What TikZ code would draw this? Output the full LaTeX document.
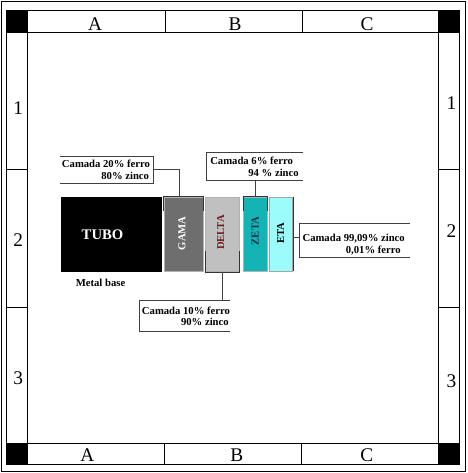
\documentclass[tikz,border=0pt]{standalone}
\usepackage{fontspec}
\setmainfont{Liberation Serif}
\definecolor{gamac}{HTML}{6E6E6E}
\definecolor{deltac}{HTML}{C0C0C0}
\definecolor{zetac}{HTML}{14B4B4}
\definecolor{etac}{HTML}{9CFCFC}
\definecolor{deltat}{HTML}{7A1C1C}
\definecolor{zetat}{HTML}{1C2E4A}
\definecolor{linec}{HTML}{404040}
\begin{document}
\begin{tikzpicture}[x=0.75pt,y=-0.75pt,
  frame/.style={draw=black, line width=0.75pt},
  layer/.style={rectangle, inner sep=0pt, minimum height=55.5pt, draw=gray!60, line width=0.4pt},
  laytxt/.style={font=\bfseries\fontsize{8}{9.6}\selectfont, inner sep=0pt, rotate=90},
  caltxt/.style={font=\bfseries\fontsize{8}{9.6}\selectfont, inner sep=0pt},
  calbox/.style={rectangle, inner sep=0pt},
  calline/.style={draw=linec, line width=0.75pt},
  bandtxt/.style={font=\fontsize{14.5}{17}\selectfont, inner sep=0pt},
  conn/.style={draw=linec, line width=0.75pt},
  bracket/.style={draw=gray!40!black, line width=0.6pt}]
\useasboundingbox (0,0) rectangle (467,473);
\fill[white] (0,0) rectangle (467,473);
% frames
\draw[frame] (1.5,1.5) rectangle (465.5,471.5);
\draw[frame] (6.7,11) rectangle (459.3,464.3);
\draw[frame] (6.7,32.5) -- (459.3,32.5);
\draw[frame] (6.7,443.3) -- (459.3,443.3);
\draw[frame] (27.7,11) -- (27.7,464.3);
\draw[frame] (438.3,11) -- (438.3,464.3);
% black corners
\fill[black] (6.7,11) rectangle (27.7,32.5);
\fill[black] (438.3,11) rectangle (459.3,32.5);
\fill[black] (6.7,443.3) rectangle (27.7,464.3);
\fill[black] (438.3,443.3) rectangle (459.3,464.3);
% dividers
\draw[frame] (165.7,11) -- (165.7,32.5);
\draw[frame] (302.3,11) -- (302.3,32.5);
\draw[frame] (164.3,443.3) -- (164.3,464.3);
\draw[frame] (301,443.3) -- (301,464.3);
\draw[frame] (6.7,170) -- (27.7,170);
\draw[frame] (6.7,307) -- (27.7,307);
\draw[frame] (438.3,170) -- (459.3,170);
\draw[frame] (438.3,307) -- (459.3,307);
% band labels
\node[bandtxt, anchor=base] (tA) at (95,31) {A};
\node[bandtxt, anchor=base] (tB) at (235,31) {B};
\node[bandtxt, anchor=base] (tC) at (367,31) {C};
\node[bandtxt, anchor=base] (bA) at (87.3,461.7) {A};
\node[bandtxt, anchor=base] (bB) at (236.7,461.7) {B};
\node[bandtxt, anchor=base] (bC) at (366.7,461.7) {C};
\node[bandtxt] (l1) at (18.3,108) {1};
\node[bandtxt] (l2) at (18.3,240) {2};
\node[bandtxt] (l3) at (18.3,378) {3};
\node[bandtxt] (r1) at (451.5,103) {1};
\node[bandtxt] (r2) at (451.5,231) {2};
\node[bandtxt] (r3) at (451.5,381) {3};
% layers
\node[layer, fill=black, draw=black, minimum width=74.5pt, minimum height=55.3pt] (tubo) at (111.3,234.2) {};
\node[font=\bfseries\fontsize{11}{13}\selectfont, text=white, inner sep=0pt, anchor=base] (tubotxt) at (102.5,239) {TUBO};
\node[caltxt, anchor=base] (metal) at (100.5,286) {Metal base};
\node[layer, fill=gamac, minimum width=29.5pt] (gama) at (183.7,234) {};
\node[layer, fill=deltac, minimum width=25.4pt, minimum height=55.8pt] (delta) at (222.6,234.5) {};
\node[layer, fill=zetac, minimum width=18.2pt] (zeta) at (255.4,234) {};
\node[layer, fill=etac, draw=gray!70, minimum width=17.3pt] (eta) at (281.2,234) {};
\node[laytxt, text=white] (gamatxt) at (182,233.3) {GAMA};
\node[laytxt, text=deltat] (deltatxt) at (220.7,232.5) {DELTA};
\node[laytxt, text=zetat] (zetatxt) at (255,231) {ZETA};
\node[laytxt, text=black] (etatxt) at (280.7,233) {ETA};
% brackets
\draw[bracket] ([yshift=-10.5pt]gama.north west) -- (gama.north west) -- (gama.north east) -- ([yshift=-10.5pt]gama.north east);
\draw[bracket] ([yshift=16pt]delta.south west) -- (delta.south west) -- (delta.south east) -- ([yshift=16pt]delta.south east);
\draw[bracket] ([yshift=-11pt]zeta.north west) -- (zeta.north west) -- (zeta.north east) -- ([yshift=-11pt]zeta.north east);
\draw[bracket] (eta.north east) -- (eta.south east);
% callout 1
\node[calbox, minimum width=69.75pt, minimum height=19.5pt] (cal1) at (106.5,170) {};
\draw[calline] (cal1.north west) -- (cal1.north east) -- (cal1.south east) -- (cal1.south west);
\node[caltxt, anchor=base west] (cal1a) at (61.7,167.3) {Camada 20\% ferro};
\node[caltxt, anchor=base east] (cal1b) at (149.3,179.3) {80\% zinco};
\draw[conn] (cal1.east) -| ([xshift=-2.8pt]gama.north);
% callout 2
\node[calbox, minimum width=72.2pt, minimum height=20.5pt] (cal2) at (254.85,166.35) {};
\draw[calline] (cal2.north east) -- (cal2.north west) -- (cal2.south west) -- (cal2.south east);
\node[caltxt, anchor=base west] (cal2a) at (210,165) {Camada 6\% ferro};
\node[caltxt, anchor=base east] (cal2b) at (299,176.7) {94 \% zinco};
\draw[conn] (cal2.south -| zeta.north) -- (zeta.north);
% callout 3
\node[calbox, minimum width=82.5pt, minimum height=25.5pt] (cal3) at (355,240.3) {};
\draw[calline] (cal3.north east) -- (cal3.north west) -- (cal3.south west) -- (cal3.south east);
\node[caltxt, anchor=base west] (cal3a) at (302.3,241.7) {Camada 99,09\% zinco};
\node[caltxt, anchor=base east] (cal3b) at (401,253.3) {0,01\% ferro};
\draw[conn] ([yshift=-2.8pt]eta.east) -- ([yshift=-2.8pt]eta.east -| cal3.west);
% callout 4
\node[calbox, minimum width=68pt, minimum height=23.25pt] (cal4) at (184.65,316.2) {};
\draw[calline] (cal4.north east) -- (cal4.north west) -- (cal4.south west) -- (cal4.south east);
\node[caltxt, anchor=base west] (cal4a) at (141.7,314.3) {Camada 10\% ferro};
\node[caltxt, anchor=base east] (cal4b) at (229,325.7) {90\% zinco};
\draw[conn] (delta.south) -- (delta.south |- cal4.north);
\end{tikzpicture}
\end{document}
